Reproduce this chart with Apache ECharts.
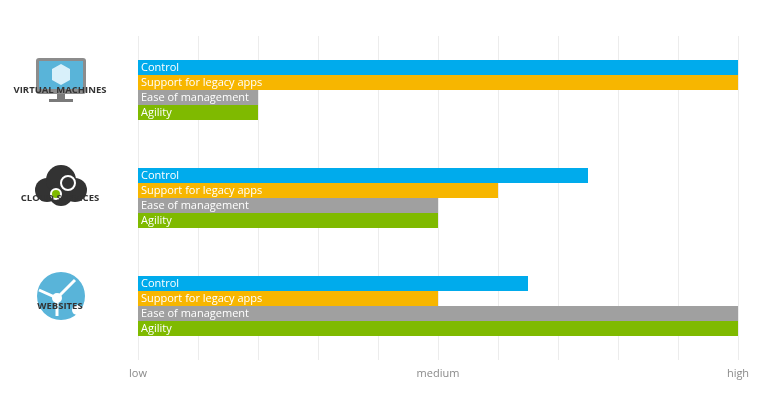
<!DOCTYPE html>
<html>
<head>
<meta charset="utf-8">
<script src="https://cdn.jsdelivr.net/npm/echarts@6/dist/echarts.min.js"></script>
<style>html,body{margin:0;background:#fff}#main{width:770px;height:400px}</style>
</head>
<body>
<div id="main"></div>
<script>
var categories = ['VIRTUAL MACHINES', 'CLOUD SERVICES', 'WEBSITES'];
var seriesNames = ['Control', 'Support for legacy apps', 'Ease of management', 'Agility'];
var colors = ['#00abec', '#f7b600', '#a0a0a0', '#7fba00'];
var control = [10, 7.5, 6.5];
var legacy = [10, 6, 5];
var ease = [2, 5, 10];
var agility = [2, 5, 10];
var tickLabels = { 0: 'low', 5: 'medium', 10: 'high' };

var values = [control, legacy, ease, agility];
var myChart = echarts.init(document.getElementById('main'));

myChart.setOption({
	animation: false,
	grid: { left: 138, right: 32, top: 36, bottom: 40 },
	xAxis: {
		type: 'value', min: 0, max: 10, interval: 1,
		axisLine: { show: false }, axisTick: { show: false },
		splitLine: { lineStyle: { color: '#ececec' } },
		axisLabel: {
			color: '#8a8a8a', fontFamily: 'Open Sans', fontSize: 11, margin: 8,
			formatter: function (v) { return tickLabels[v] || ''; }
		}
	},
	yAxis: {
		type: 'category', data: categories, inverse: true,
		axisLine: { show: false }, axisTick: { show: false },
		axisLabel: {
			color: '#333', fontFamily: 'Open Sans', fontWeight: 'bold', fontSize: 9.5,
			align: 'center', margin: 78, padding: [70, 0, 0, 0]
		}
	},
	series: values.map(function (d, i) {
		return {
			name: seriesNames[i], type: 'bar', data: d,
			barWidth: 15, barGap: '0%',
			itemStyle: { color: colors[i] },
			label: {
				show: true, position: 'insideLeft', distance: 3,
				color: '#fff', fontFamily: 'Open Sans', fontSize: 11,
				formatter: seriesNames[i]
			}
		};
	})
});

// simple icons above category names
var g = [];
categories.forEach(function (c, i) {
	var y = myChart.convertToPixel({ yAxisIndex: 0 }, c) - 10;
	var x = 61;
	if (i === 0) {
		g.push({ type: 'rect', shape: { x: x - 25, y: y - 22, width: 50, height: 36, r: 3 }, style: { fill: '#8c8c8c' } });
		g.push({ type: 'rect', shape: { x: x - 22, y: y - 19, width: 44, height: 28 }, style: { fill: '#59b4d9' } });
		g.push({ type: 'rect', shape: { x: x - 4, y: y + 14, width: 8, height: 5 }, style: { fill: '#7a7a7a' } });
		g.push({ type: 'rect', shape: { x: x - 12, y: y + 19, width: 24, height: 3 }, style: { fill: '#7a7a7a' } });
		g.push({ type: 'polygon', shape: { points: [[x, y - 16], [x + 9, y - 11], [x + 9, y], [x, y + 5], [x - 9, y], [x - 9, y - 11]] }, style: { fill: '#d8f0fa' } });
	} else if (i === 1) {
		[[x - 14, y + 2, 12], [x, y - 8, 15], [x + 14, y + 2, 12], [x, y + 6, 12]].forEach(function (p) {
			g.push({ type: 'circle', shape: { cx: p[0], cy: p[1], r: p[2] }, style: { fill: '#333' } });
		});
		g.push({ type: 'circle', shape: { cx: x + 7, cy: y - 5, r: 7 }, style: { fill: '#333', stroke: '#fff', lineWidth: 2 } });
		g.push({ type: 'circle', shape: { cx: x - 5, cy: y + 6, r: 5 }, style: { fill: '#7fba00', stroke: '#fff', lineWidth: 2 } });
	} else {
		g.push({ type: 'circle', shape: { cx: x, cy: y, r: 24 }, style: { fill: '#59b4d9' } });
		g.push({ type: 'polyline', shape: { points: [[x - 22, y - 6], [x - 4, y + 2], [x + 14, y - 16]] }, style: { stroke: '#fff', lineWidth: 3, fill: null } });
		g.push({ type: 'polyline', shape: { points: [[x - 4, y + 2], [x - 4, y + 20]] }, style: { stroke: '#fff', lineWidth: 3, fill: null } });
		g.push({ type: 'circle', shape: { cx: x - 4, cy: y + 2, r: 5 }, style: { fill: '#fff' } });
		g.push({ type: 'circle', shape: { cx: x + 16, cy: y + 14, r: 5 }, style: { fill: '#fff' } });
	}
});
myChart.setOption({ graphic: g });
</script>
</body>
</html>
